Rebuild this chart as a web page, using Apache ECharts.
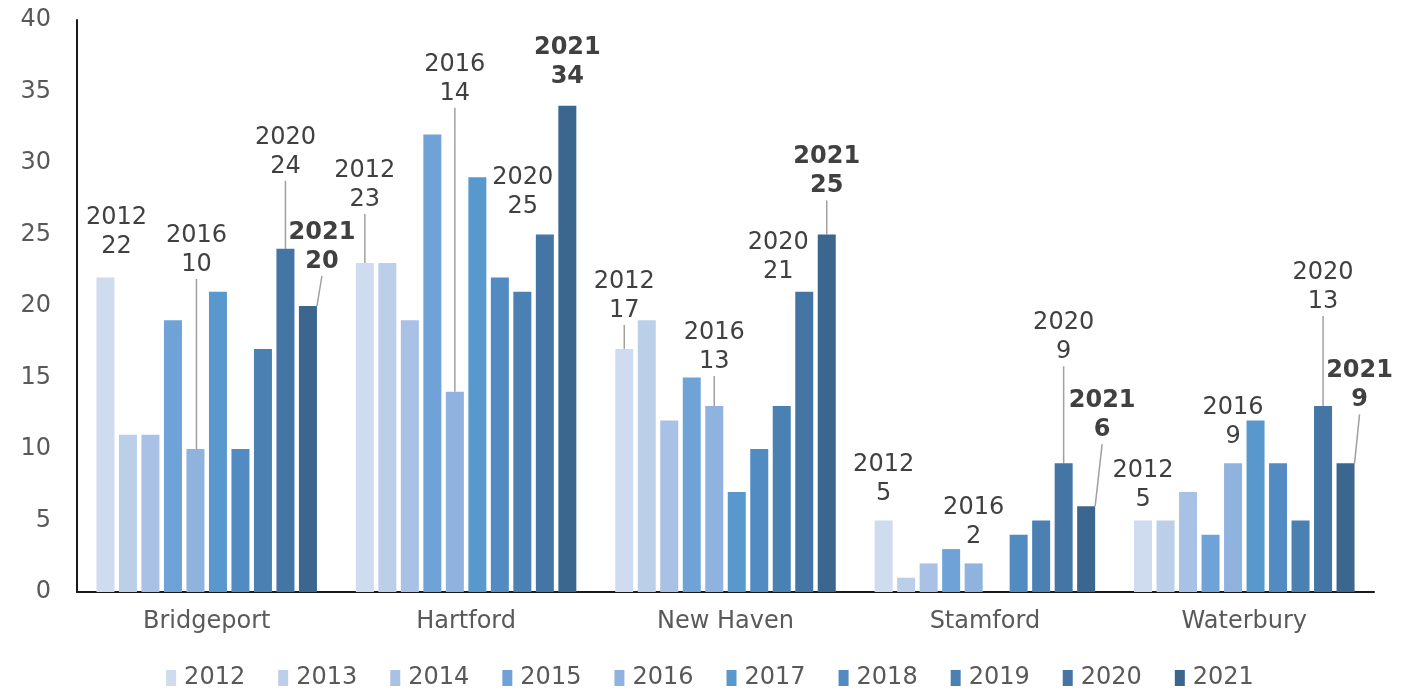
<!DOCTYPE html>
<html>
<head>
<meta charset="utf-8">
<script src="https://cdn.jsdelivr.net/npm/echarts@6/dist/echarts.min.js"></script>
<style>
  html, body { margin: 0; padding: 0; background: #fff; }
  #chart { width: 1420px; height: 697px; }
</style>
</head>
<body>
<div id="chart"></div>
<script>
// ---- data ----
const cities = ['Bridgeport', 'Hartford', 'New Haven', 'Stamford', 'Waterbury']
const years = ['2012', '2013', '2014', '2015', '2016', '2017', '2018', '2019', '2020', '2021']
const v2012 = [22, 23, 17, 5, 5]
const v2013 = [11, 23, 19, 1, 5]
const v2014 = [11, 19, 12, 2, 7]
const v2015 = [19, 32, 15, 3, 4]
const v2016 = [10, 14, 13, 2, 9]
const v2017 = [21, 29, 7, 0, 12]
const v2018 = [10, 22, 10, 4, 9]
const v2019 = [17, 21, 13, 5, 5]
const v2020 = [24, 25, 21, 9, 13]
const v2021 = [20, 34, 25, 6, 9]
const yTicks = [0, 5, 10, 15, 20, 25, 30, 35, 40]

const valuesByYear = [v2012, v2013, v2014, v2015, v2016, v2017, v2018, v2019, v2020, v2021]
const colors = ['#cfdbee', '#bbcfe9', '#a8c1e5', '#6fa3d7', '#8fb3de',
                '#5898cd', '#528bc1', '#4b80b2', '#4475a5', '#3b668e']

// labelled bars: year -> per city [dx, dy, leader line]
const labelOffsets = {
  '2012': [[11, -11, false], [0, -44, true], [0, -19, true], [0, -7, false], [0, -1, false]],
  '2016': [[1, -165, true], [0, -279, true], [0, -25, true], [0, -7, false], [0, -7, false]],
  '2020': [[0, -63, true], [-22, -8, false], [-26, 0, false], [0, -92, true], [0, -85, true]],
  '2021': [[14, -25, true], [0, -10, false], [0, -29, true], [16, -57, true], [14, -44, true]]
}

const chart = echarts.init(document.getElementById('chart'))

const series = years.map((yr, si) => {
  const offs = labelOffsets[yr]
  return {
    name: yr,
    type: 'bar',
    barGap: '25%',
    barCategoryGap: '15%',
    itemStyle: { color: colors[si] },
    data: valuesByYear[si].map((v, ci) => {
      if (!offs) return v
      return {
        value: v,
        label: {
          show: true,
          position: 'top',
          distance: 5,
          formatter: yr + '\n' + v,
          fontFamily: 'DejaVu Sans',
          fontSize: 24,
          lineHeight: 29,
          color: '#404040',
          fontWeight: yr === '2021' ? 'bold' : 'normal'
        },
        labelLine: {
          show: offs[ci][2],
          lineStyle: { color: '#a0a0a0', width: 1.5 }
        }
      }
    }),
    labelLayout: offs ? (p) => ({ dx: offs[p.dataIndex][0], dy: offs[p.dataIndex][1] }) : undefined
  }
})

chart.setOption({
  animation: false,
  color: colors,
  grid: { left: 77, right: 46, top: 20, bottom: 105 },
  legend: {
    bottom: 2,
    left: 'center',
    itemWidth: 10,
    itemHeight: 16,
    itemGap: 33,
    icon: 'rect',
    textStyle: {
      fontFamily: 'DejaVu Sans',
      fontSize: 24,
      color: '#595959',
      padding: [0, 0, 0, 3]
    },
    data: years
  },
  xAxis: {
    type: 'category',
    data: cities,
    axisLine: { lineStyle: { color: '#1a1a1a', width: 2 } },
    axisTick: { show: false },
    axisLabel: {
      fontFamily: 'DejaVu Sans',
      fontSize: 24,
      color: '#595959',
      margin: 18
    }
  },
  yAxis: {
    type: 'value',
    min: yTicks[0],
    max: yTicks[yTicks.length - 1],
    interval: 5,
    axisLine: { show: true, lineStyle: { color: '#1a1a1a', width: 2 } },
    axisTick: { show: false },
    splitLine: { show: false },
    axisLabel: {
      fontFamily: 'DejaVu Sans',
      fontSize: 24,
      color: '#595959',
      margin: 26
    }
  },
  series: series
})
</script>
</body>
</html>
